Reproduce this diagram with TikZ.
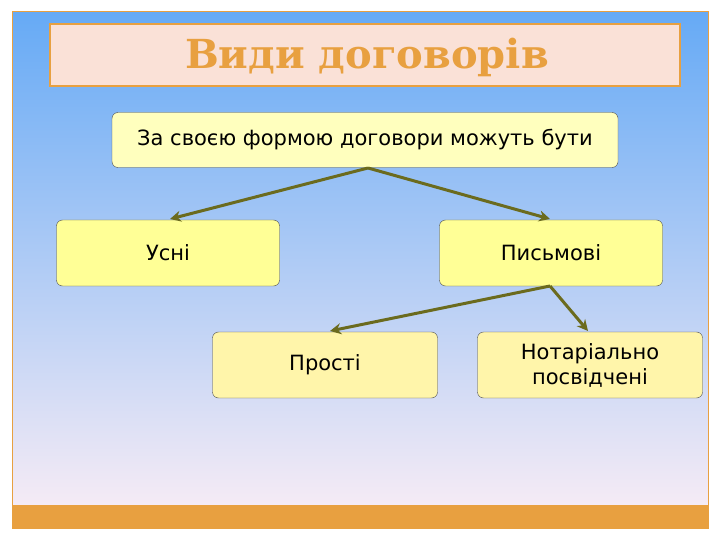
\documentclass[tikz,border=0pt]{standalone}
\usepackage{fontspec}
\setmainfont{DejaVu Sans}
\newfontfamily\titlefont{DejaVu Serif}
\usetikzlibrary{arrows.meta}
\definecolor{olive}{HTML}{6B6B1E}
\definecolor{bord}{HTML}{E8A040}
\definecolor{ytop}{HTML}{FFFFBE}
\definecolor{ymid}{HTML}{FFFF96}
\definecolor{ylow}{HTML}{FFF5AA}
\definecolor{bantop}{HTML}{FAE1D7}
\definecolor{skytop}{HTML}{66AAF5}
\definecolor{skybot}{HTML}{F5EBF5}
\tikzset{
 box/.style={draw=black!70,rounded corners=6pt,fill=#1,minimum height=66pt,minimum width=223pt,font=\fontsize{21}{25}\selectfont,align=center},
 arr/.style={draw=olive,line width=3pt,-{Stealth[length=11pt,width=11pt]}}
}
\begin{document}
\begin{tikzpicture}[x=1pt,y=-1pt]
\useasboundingbox (0,0) rectangle (720,540);
\shade[top color=skytop,bottom color=skybot] (12,12) rectangle (708,505);
\fill[bord] (12,505) rectangle (708,528);
\draw[bord,line width=1pt] (12,12) rectangle (708,528);
\node[draw=bord,line width=1.2pt,fill=bantop,minimum width=630pt,minimum height=62pt] (banner) at (365,55) {};
\node[text=bord] (title) at (367,57) {\titlefont\bfseries\fontsize{40}{44}\selectfont Види договорів};
\node[box=ytop,minimum width=506pt,minimum height=55pt] (top) at (365,140) {За своєю формою договори можуть бути};
\node[box=ymid] (oral) at (168,253) {};
\node (oralt) at (168,253) {\fontsize{21}{25}\selectfont Усні};
\node[box=ymid] (writ) at (551,253) {Письмові};
\node[box=ylow,minimum width=225pt] (simple) at (325,365) {Прості};
\node[box=ylow,minimum width=225pt] (notar) at (590,365) {Нотаріально\\посвідчені};
\coordinate (tb) at (368,168);
\coordinate (wb) at (550,286);
\draw[arr] (tb) -- (170,219);
\draw[arr] (tb) -- (550,219);
\draw[arr] (wb) -- (330,331);
\draw[arr] (wb) -- (588,331);
\end{tikzpicture}
\end{document}
